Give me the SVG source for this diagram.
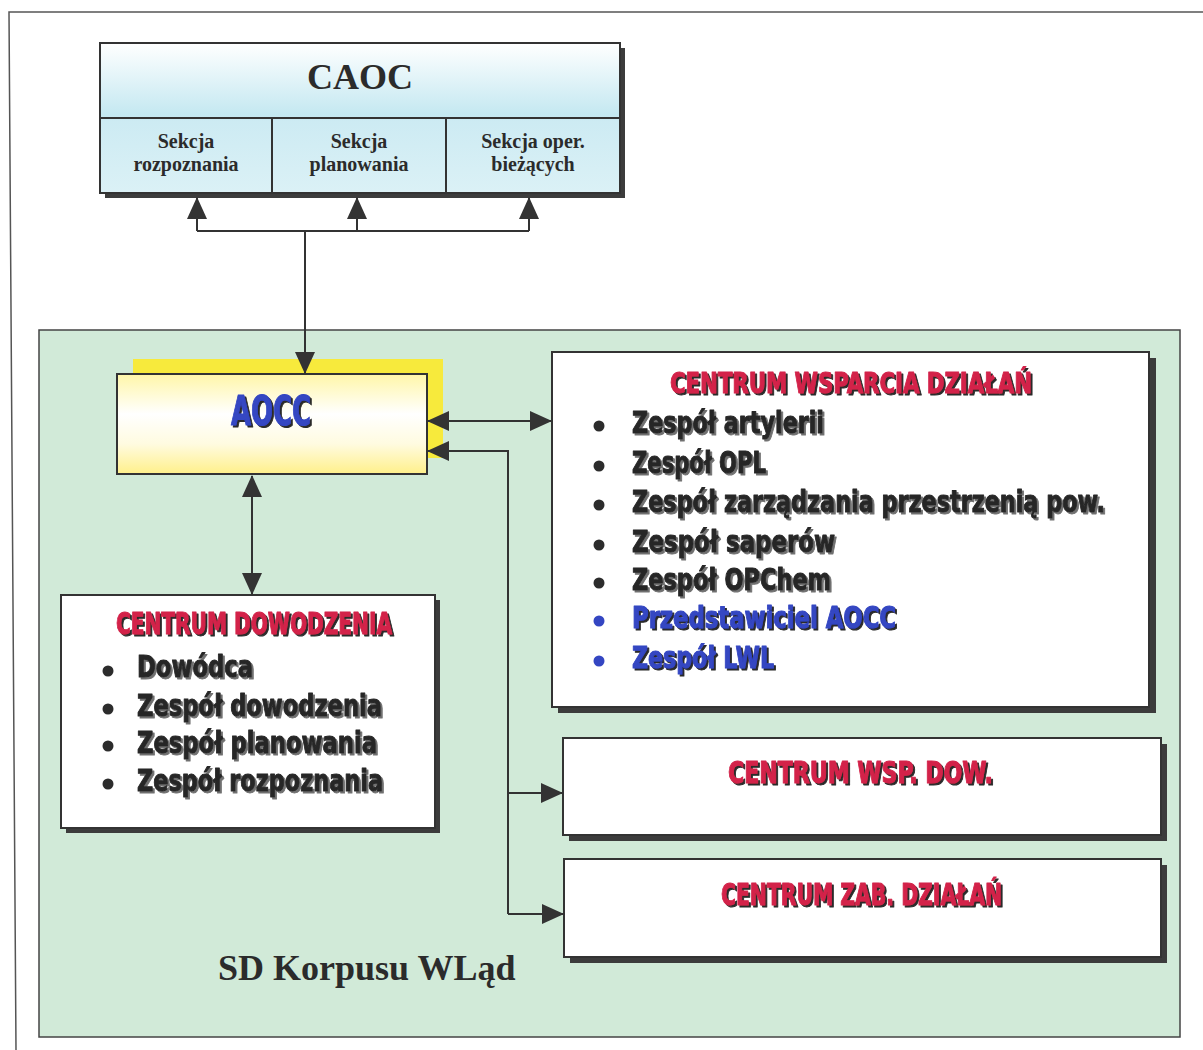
<svg xmlns="http://www.w3.org/2000/svg" width="1203" height="1050" viewBox="0 0 1203 1050">
<style>
.frame{fill:none;stroke:#555;stroke-width:1.5}
.box{stroke:#333;stroke-width:2}
.shadow{fill:#3c3c3c}
.serif{font-family:"Liberation Serif","Times New Roman",serif;font-weight:bold;fill:#2b2b2b}
.imp{font-family:"Liberation Sans Narrow","DejaVu Sans Condensed","DejaVu Sans",sans-serif;font-weight:bold;font-stretch:condensed;stroke-width:1;stroke-linejoin:round}
.red{fill:#d3234a;stroke:#d3234a;filter:url(#shDark)}
.blk{fill:#262626;stroke:#262626;filter:url(#shGray)}
.blue{fill:#3446c2;stroke:#3446c2;filter:url(#shDark)}
.dotb{fill:#2c2c2c}
.dotu{fill:#3446c2}
.conn{fill:none;stroke:#333;stroke-width:2}
</style>
<defs>
<linearGradient id="gCaoc" x1="0" y1="0" x2="0" y2="1">
<stop offset="0" stop-color="#ffffff"/>
<stop offset="0.48" stop-color="#c4e8f1"/>
<stop offset="0.52" stop-color="#cdebf3"/>
<stop offset="1" stop-color="#dbf1f6"/>
</linearGradient>
<linearGradient id="gAocc" x1="0" y1="0" x2="0" y2="1">
<stop offset="0" stop-color="#fff6a8"/>
<stop offset="0.4" stop-color="#ffffff"/>
<stop offset="0.7" stop-color="#fffbe0"/>
<stop offset="1" stop-color="#fff08a"/>
</linearGradient>
<filter id="shDark" x="-5%" y="-20%" width="115%" height="150%">
<feOffset in="SourceAlpha" dx="2" dy="2" result="o"/>
<feFlood flood-color="#2a2a2a"/>
<feComposite in2="o" operator="in" result="s"/>
<feMerge><feMergeNode in="s"/><feMergeNode in="SourceGraphic"/></feMerge>
</filter>
<filter id="shGray" x="-5%" y="-20%" width="115%" height="150%">
<feOffset in="SourceAlpha" dx="2" dy="2" result="o"/>
<feFlood flood-color="#707070"/>
<feComposite in2="o" operator="in" result="s"/>
<feMerge><feMergeNode in="s"/><feMergeNode in="SourceGraphic"/></feMerge>
</filter>
<marker id="arr" viewBox="0 0 22 20" markerUnits="userSpaceOnUse" markerWidth="22" markerHeight="20" refX="21" refY="10" orient="auto-start-reverse">
<path d="M0,0 L22,10 L0,20 z" fill="#333"/>
</marker>
</defs>

<rect x="0" y="0" width="1203" height="1050" fill="#ffffff"/>
<path class="frame" d="M1203,12 H9 L16,1050"/>

<g id="sd-korpusu">
<rect x="39" y="330" width="1141" height="707" fill="#d1ead8" stroke="#444" stroke-width="1.5"/>
<text class="serif" x="218" y="980" font-size="36">SD Korpusu WLąd</text>
</g>

<g id="caoc">
<rect class="shadow" x="105" y="48" width="520" height="150" fill="#4a4a4a"/>
<rect class="box" x="100" y="43" width="520" height="150" fill="url(#gCaoc)"/>
<path d="M100,118 H620 M272,118 V193 M446,118 V193" stroke="#333" stroke-width="2" fill="none"/>
<text class="serif" x="360" y="89" font-size="36" text-anchor="middle">CAOC</text>
<text class="serif" font-size="20" text-anchor="middle"><tspan x="186" y="148">Sekcja</tspan><tspan x="186" y="171">rozpoznania</tspan></text>
<text class="serif" font-size="20" text-anchor="middle"><tspan x="359" y="148">Sekcja</tspan><tspan x="359" y="171">planowania</tspan></text>
<text class="serif" font-size="20" text-anchor="middle"><tspan x="533" y="148">Sekcja oper.</tspan><tspan x="533" y="171">bieżących</tspan></text>
</g>

<g id="aocc">
<rect x="133" y="359" width="310" height="99" fill="#f7ea3c"/>
<rect class="box" x="117" y="374" width="310" height="100" fill="url(#gAocc)"/>
<text class="imp blue" x="231" y="425" font-size="41" textLength="80" lengthAdjust="spacingAndGlyphs">AOCC</text>
</g>

<g id="centrum-wsparcia-dzialan">
<rect class="shadow" x="558" y="358" width="598" height="355"/>
<rect class="box" x="552" y="352" width="597" height="355" fill="#ffffff"/>
<text class="imp red" x="670" y="393" font-size="29" textLength="362" lengthAdjust="spacingAndGlyphs">CENTRUM WSPARCIA DZIAŁAŃ</text>
<circle class="dotb" cx="599" cy="426" r="5.5"/>
<circle class="dotb" cx="599" cy="466" r="5.5"/>
<circle class="dotb" cx="599" cy="505" r="5.5"/>
<circle class="dotb" cx="599" cy="545" r="5.5"/>
<circle class="dotb" cx="599" cy="583" r="5.5"/>
<circle class="dotu" cx="599" cy="621" r="5.5"/>
<circle class="dotu" cx="599" cy="661" r="5.5"/>
<text class="imp blk" x="632" y="433" font-size="30" textLength="192" lengthAdjust="spacingAndGlyphs">Zespół artylerii</text>
<text class="imp blk" x="632" y="473" font-size="30" textLength="134" lengthAdjust="spacingAndGlyphs">Zespół OPL</text>
<text class="imp blk" x="632" y="512" font-size="30" textLength="473" lengthAdjust="spacingAndGlyphs">Zespół zarządzania przestrzenią pow.</text>
<text class="imp blk" x="632" y="552" font-size="30" textLength="203" lengthAdjust="spacingAndGlyphs">Zespół saperów</text>
<text class="imp blk" x="632" y="590" font-size="30" textLength="199" lengthAdjust="spacingAndGlyphs">Zespół OPChem</text>
<text class="imp blue" x="632" y="628" font-size="30" textLength="264" lengthAdjust="spacingAndGlyphs">Przedstawiciel AOCC</text>
<text class="imp blue" x="632" y="668" font-size="30" textLength="142" lengthAdjust="spacingAndGlyphs">Zespół LWL</text>
</g>

<g id="centrum-dowodzenia">
<rect class="shadow" x="66" y="600" width="374" height="233"/>
<rect class="box" x="61" y="595" width="374" height="233" fill="#ffffff"/>
<text class="imp red" x="116" y="634" font-size="30" textLength="276" lengthAdjust="spacingAndGlyphs">CENTRUM DOWODZENIA</text>
<circle class="dotb" cx="108" cy="671" r="5.5"/>
<circle class="dotb" cx="108" cy="709" r="5.5"/>
<circle class="dotb" cx="108" cy="746" r="5.5"/>
<circle class="dotb" cx="108" cy="784" r="5.5"/>
<text class="imp blk" x="137" y="677" font-size="31" textLength="116" lengthAdjust="spacingAndGlyphs">Dowódca</text>
<text class="imp blk" x="137" y="716" font-size="31" textLength="245" lengthAdjust="spacingAndGlyphs">Zespół dowodzenia</text>
<text class="imp blk" x="137" y="753" font-size="31" textLength="240" lengthAdjust="spacingAndGlyphs">Zespół planowania</text>
<text class="imp blk" x="137" y="791" font-size="31" textLength="246" lengthAdjust="spacingAndGlyphs">Zespół rozpoznania</text>
</g>

<g id="centrum-wsp-dow">
<rect class="shadow" x="569" y="744" width="598" height="97"/>
<rect class="box" x="563" y="738" width="598" height="97" fill="#ffffff"/>
<text class="imp red" x="728" y="783" font-size="30" textLength="265" lengthAdjust="spacingAndGlyphs">CENTRUM WSP. DOW.</text>
</g>

<g id="centrum-zab-dzialan">
<rect class="shadow" x="570" y="865" width="597" height="98"/>
<rect class="box" x="564" y="859" width="597" height="98" fill="#ffffff"/>
<text class="imp red" x="721" y="905" font-size="30" textLength="281" lengthAdjust="spacingAndGlyphs">CENTRUM ZAB. DZIAŁAŃ</text>
</g>

<g id="connectors">
<path class="conn" d="M197,231 H529"/>
<path class="conn" d="M197,231 V198" marker-end="url(#arr)"/>
<path class="conn" d="M357,231 V198" marker-end="url(#arr)"/>
<path class="conn" d="M529,231 V198" marker-end="url(#arr)"/>
<path class="conn" d="M305,231 V373" marker-end="url(#arr)"/>
<path class="conn" d="M428,421 H551" marker-start="url(#arr)" marker-end="url(#arr)"/>
<path class="conn" d="M252,476 V594" marker-start="url(#arr)" marker-end="url(#arr)"/>
<path class="conn" d="M508,914 V451 H428" marker-end="url(#arr)"/>
<path class="conn" d="M508,793 H562" marker-end="url(#arr)"/>
<path class="conn" d="M508,914 H563" marker-end="url(#arr)"/>
</g>
</svg>
